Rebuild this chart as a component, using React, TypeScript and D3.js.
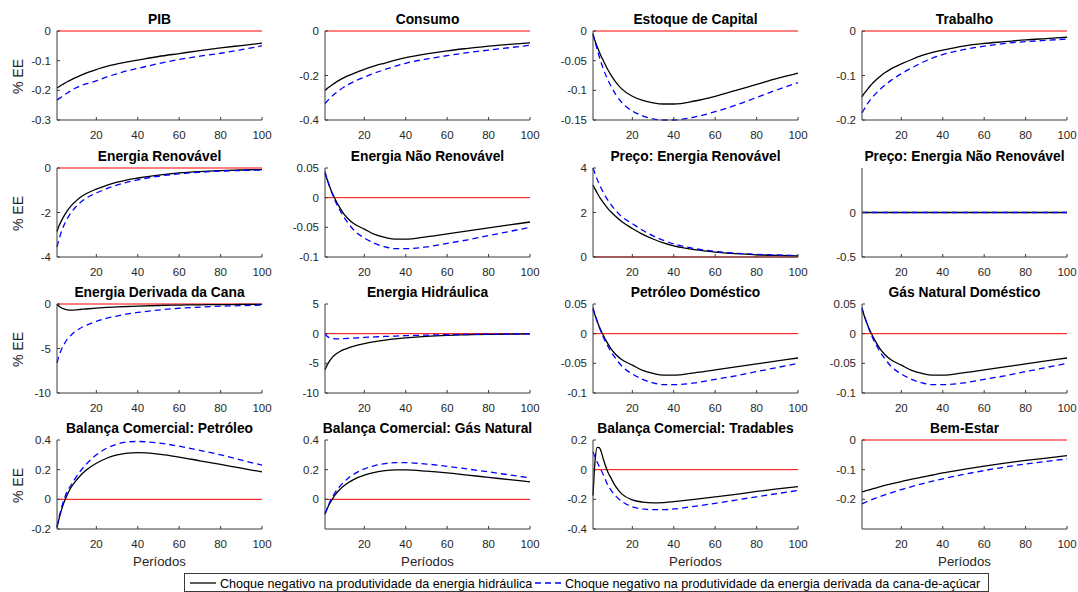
import React from "react";
import * as d3 from "d3";

const periods = [1, 2, 3, 4, 5, 6, 8, 10, 12, 15, 20, 25, 30, 35, 40, 50, 60, 70, 80, 90, 100];
const xTicks = [20, 40, 60, 80, 100];

const titles = [
  "PIB", "Consumo", "Estoque de Capital", "Trabalho",
  "Energia Renovável", "Energia Não Renovável", "Preço: Energia Renovável", "Preço: Energia Não Renovável",
  "Energia Derivada da Cana", "Energia Hidráulica", "Petróleo Doméstico", "Gás Natural Doméstico",
  "Balança Comercial: Petróleo", "Balança Comercial: Gás Natural", "Balança Comercial: Tradables", "Bem-Estar",
];

const yDomains: [number, number][] = [
  [-0.3, 0], [-0.4, 0], [-0.15, 0], [-0.2, 0],
  [-4, 0], [-0.1, 0.05], [0, 4], [-0.5, 0.5],
  [-10, 0], [-10, 5], [-0.1, 0.05], [-0.1, 0.05],
  [-0.2, 0.4], [-0.2, 0.4], [-0.4, 0.2], [-0.3, 0],
];

const yTicks: number[][] = [
  [-0.3, -0.2, -0.1, 0], [-0.4, -0.2, 0], [-0.15, -0.1, -0.05, 0], [-0.2, -0.1, 0],
  [-4, -2, 0], [-0.1, -0.05, 0, 0.05], [0, 2, 4], [-0.5, 0],
  [-10, -5, 0], [-10, -5, 0, 5], [-0.1, -0.05, 0, 0.05], [-0.1, -0.05, 0, 0.05],
  [-0.2, 0, 0.2, 0.4], [0, 0.2, 0.4], [-0.4, -0.2, 0, 0.2], [-0.2, -0.1, 0],
];

// Series: choque hidráulica (preta) e choque cana (azul)
const pibHid = [-0.192, -0.188, -0.183, -0.179, -0.175, -0.171, -0.164, -0.157, -0.151, -0.142, -0.130, -0.119, -0.111, -0.104, -0.098, -0.086, -0.076, -0.066, -0.057, -0.049, -0.041];
const pibCana = [-0.233, -0.228, -0.223, -0.218, -0.213, -0.209, -0.200, -0.192, -0.186, -0.178, -0.168, -0.155, -0.144, -0.134, -0.126, -0.110, -0.096, -0.085, -0.075, -0.063, -0.050];
const consHid = [-0.267, -0.259, -0.252, -0.245, -0.238, -0.232, -0.221, -0.211, -0.202, -0.190, -0.172, -0.157, -0.144, -0.131, -0.120, -0.103, -0.089, -0.078, -0.068, -0.060, -0.053];
const consCana = [-0.326, -0.316, -0.306, -0.297, -0.288, -0.280, -0.266, -0.253, -0.242, -0.227, -0.207, -0.189, -0.173, -0.158, -0.145, -0.126, -0.111, -0.097, -0.086, -0.075, -0.064];
const capHid = [-0.007, -0.017, -0.026, -0.035, -0.043, -0.050, -0.064, -0.076, -0.086, -0.098, -0.110, -0.117, -0.121, -0.123, -0.123, -0.118, -0.110, -0.100, -0.090, -0.080, -0.071];
const capCana = [-0.004, -0.018, -0.031, -0.043, -0.054, -0.064, -0.081, -0.095, -0.107, -0.121, -0.135, -0.143, -0.148, -0.150, -0.150, -0.145, -0.136, -0.125, -0.112, -0.099, -0.087];
const trabHid = [-0.148, -0.141, -0.135, -0.129, -0.123, -0.118, -0.109, -0.101, -0.094, -0.085, -0.074, -0.064, -0.055, -0.048, -0.043, -0.034, -0.028, -0.024, -0.020, -0.017, -0.014];
const trabCana = [-0.184, -0.176, -0.168, -0.161, -0.155, -0.149, -0.139, -0.130, -0.122, -0.111, -0.096, -0.083, -0.071, -0.061, -0.053, -0.042, -0.034, -0.028, -0.024, -0.021, -0.018];
const renHid = [-2.85, -2.6, -2.4, -2.22, -2.06, -1.92, -1.68, -1.5, -1.34, -1.16, -0.95, -0.78, -0.64, -0.53, -0.45, -0.32, -0.22, -0.16, -0.12, -0.09, -0.07];
const renCana = [-3.55, -3.2, -2.9, -2.65, -2.45, -2.27, -1.98, -1.76, -1.57, -1.36, -1.12, -0.93, -0.77, -0.64, -0.53, -0.37, -0.26, -0.19, -0.14, -0.11, -0.09];
const naoRenHid = [0.041, 0.031, 0.021, 0.012, 0.004, -0.003, -0.016, -0.027, -0.035, -0.044, -0.053, -0.062, -0.067, -0.070, -0.070, -0.066, -0.061, -0.056, -0.051, -0.046, -0.041];
const naoRenCana = [0.044, 0.032, 0.021, 0.011, 0.002, -0.006, -0.020, -0.032, -0.042, -0.055, -0.068, -0.077, -0.083, -0.086, -0.086, -0.083, -0.077, -0.071, -0.064, -0.057, -0.050];
const precoRenHid = [3.24, 3.05, 2.88, 2.72, 2.58, 2.44, 2.2, 2.0, 1.82, 1.58, 1.28, 1.02, 0.81, 0.63, 0.5, 0.33, 0.22, 0.15, 0.1, 0.07, 0.05];
const precoRenCana = [4.0, 3.74, 3.5, 3.28, 3.08, 2.9, 2.58, 2.32, 2.09, 1.8, 1.5, 1.2, 0.95, 0.75, 0.59, 0.38, 0.25, 0.17, 0.12, 0.09, 0.07];
const precoNaoRenHid = [0, 0, 0, 0, 0, 0, 0, 0, 0, 0, 0, 0, 0, 0, 0, 0, 0, 0, 0, 0, 0];
const precoNaoRenCana = [0, 0, 0, 0, 0, 0, 0, 0, 0, 0, 0, 0, 0, 0, 0, 0, 0, 0, 0, 0, 0];
const canaHid = [0, -0.25, -0.42, -0.53, -0.6, -0.65, -0.68, -0.66, -0.62, -0.56, -0.47, -0.39, -0.33, -0.28, -0.24, -0.17, -0.12, -0.09, -0.07, -0.05, -0.04];
const canaCana = [-6.6, -5.8, -5.2, -4.7, -4.3, -3.95, -3.45, -3.05, -2.75, -2.4, -1.95, -1.6, -1.35, -1.12, -0.95, -0.68, -0.48, -0.35, -0.25, -0.18, -0.13];
const hidHid = [-6.1, -5.3, -4.7, -4.2, -3.8, -3.5, -3.05, -2.7, -2.42, -2.08, -1.66, -1.34, -1.08, -0.87, -0.7, -0.45, -0.29, -0.19, -0.12, -0.08, -0.05];
const hidCana = [0, -0.45, -0.68, -0.8, -0.85, -0.87, -0.87, -0.84, -0.8, -0.74, -0.64, -0.55, -0.47, -0.4, -0.34, -0.24, -0.17, -0.12, -0.08, -0.06, -0.04];
const petDomHid = [0.041, 0.031, 0.021, 0.012, 0.004, -0.003, -0.016, -0.027, -0.035, -0.044, -0.053, -0.062, -0.067, -0.070, -0.070, -0.066, -0.061, -0.056, -0.051, -0.046, -0.041];
const petDomCana = [0.044, 0.032, 0.021, 0.011, 0.002, -0.006, -0.020, -0.032, -0.042, -0.055, -0.068, -0.077, -0.083, -0.086, -0.086, -0.083, -0.077, -0.071, -0.064, -0.057, -0.050];
const gasDomHid = [0.041, 0.031, 0.021, 0.012, 0.004, -0.003, -0.016, -0.027, -0.035, -0.044, -0.053, -0.062, -0.067, -0.070, -0.070, -0.066, -0.061, -0.056, -0.051, -0.046, -0.041];
const gasDomCana = [0.044, 0.032, 0.021, 0.011, 0.002, -0.006, -0.020, -0.032, -0.042, -0.055, -0.068, -0.077, -0.083, -0.086, -0.086, -0.083, -0.077, -0.071, -0.064, -0.057, -0.050];
const bcPetHid = [-0.19, -0.13, -0.08, -0.035, 0.0, 0.033, 0.085, 0.123, 0.156, 0.196, 0.243, 0.277, 0.299, 0.312, 0.315, 0.305, 0.285, 0.26, 0.235, 0.21, 0.185];
const bcPetCana = [-0.185, -0.12, -0.065, -0.018, 0.022, 0.056, 0.1, 0.145, 0.185, 0.235, 0.3, 0.345, 0.372, 0.387, 0.39, 0.38, 0.358, 0.33, 0.3, 0.265, 0.23];
const bcGasHid = [-0.1, -0.065, -0.035, -0.01, 0.012, 0.032, 0.065, 0.09, 0.11, 0.135, 0.163, 0.182, 0.193, 0.198, 0.198, 0.19, 0.178, 0.163, 0.148, 0.133, 0.118];
const bcGasCana = [-0.1, -0.06, -0.028, 0.0, 0.025, 0.048, 0.085, 0.115, 0.14, 0.17, 0.205, 0.228, 0.241, 0.247, 0.247, 0.238, 0.222, 0.204, 0.185, 0.165, 0.145];
const bcTradHid = [-0.175, 0.06, 0.15, 0.148, 0.12, 0.07, -0.01, -0.065, -0.115, -0.165, -0.204, -0.219, -0.224, -0.222, -0.215, -0.2, -0.184, -0.166, -0.147, -0.13, -0.114];
const bcTradCana = [0.12, 0.085, 0.052, 0.022, -0.006, -0.034, -0.1, -0.145, -0.178, -0.215, -0.25, -0.265, -0.27, -0.27, -0.265, -0.247, -0.227, -0.205, -0.183, -0.161, -0.14];
const bemHid = [-0.175, -0.173, -0.171, -0.169, -0.167, -0.165, -0.161, -0.157, -0.153, -0.148, -0.14, -0.132, -0.125, -0.118, -0.111, -0.099, -0.088, -0.078, -0.069, -0.061, -0.053];
const bemCana = [-0.215, -0.212, -0.209, -0.206, -0.203, -0.2, -0.195, -0.19, -0.185, -0.178, -0.167, -0.157, -0.148, -0.139, -0.131, -0.116, -0.103, -0.091, -0.081, -0.072, -0.064];

const hidSeries = [pibHid, consHid, capHid, trabHid, renHid, naoRenHid, precoRenHid, precoNaoRenHid, canaHid, hidHid, petDomHid, gasDomHid, bcPetHid, bcGasHid, bcTradHid, bemHid];
const canaSeries = [pibCana, consCana, capCana, trabCana, renCana, naoRenCana, precoRenCana, precoNaoRenCana, canaCana, hidCana, petDomCana, gasDomCana, bcPetCana, bcGasCana, bcTradCana, bemCana];

const legendLabels = [
  "Choque negativo na produtividade da energia hidráulica",
  "Choque negativo na produtividade da energia derivada da cana-de-açúcar",
];
const xLabel = "Períodos";
const yLabel = "% EE";

const W = 1078;
const H = 592;
const colLeft = [57, 325, 593, 862];
const rowTop = [31, 168, 304, 440];
const pw = 205;
const ph = 89;
const font = "'Liberation Sans', Arial, Helvetica, sans-serif";
const textColor = "#262626";
const axisColor = "#3a3a3a";

function Panel({ i }: { i: number }) {
  const r = Math.floor(i / 4);
  const c = i % 4;
  const left = colLeft[c];
  const top = rowTop[r];
  const x = d3.scaleLinear().domain([1, 100]).range([left, left + pw]);
  const y = d3.scaleLinear().domain(yDomains[i]).range([top + ph, top]);
  const line = d3
    .line<number>()
    .x((_, k) => x(periods[k]))
    .y((v) => y(v))
    .curve(d3.curveMonotoneX);
  const clipId = `clip${i}`;
  return (
    <g>
      <defs>
        <clipPath id={clipId}>
          <rect x={left - 1} y={top - 1.5} width={pw + 2} height={ph + 3} />
        </clipPath>
      </defs>
      <text x={left + pw / 2} y={top - 7} textAnchor="middle" fontSize={13.8} fontWeight="bold" fill="#000" fontFamily={font}>
        {titles[i]}
      </text>
      <g clipPath={`url(#${clipId})`}>
        <line x1={x(1)} x2={x(100)} y1={y(0)} y2={y(0)} stroke="#ff0000" strokeWidth={1} />
        <path d={line(hidSeries[i]) || ""} fill="none" stroke="#000" strokeWidth={1.3} />
        <path d={line(canaSeries[i]) || ""} fill="none" stroke="#0000ff" strokeWidth={1.3} strokeDasharray="6,4" />
      </g>
      <line x1={left} x2={left + pw} y1={top + ph} y2={top + ph} stroke={axisColor} strokeWidth={1} />
      <line x1={left} x2={left} y1={top} y2={top + ph} stroke={axisColor} strokeWidth={1} />
      {xTicks.map((t) => (
        <g key={"x" + t}>
          <line x1={x(t)} x2={x(t)} y1={top + ph} y2={top + ph - 3} stroke={axisColor} strokeWidth={1} />
          <text x={x(t)} y={top + ph + 19} textAnchor="middle" fontSize={11.5} fill={textColor} fontFamily={font}>
            {t}
          </text>
        </g>
      ))}
      {yTicks[i].map((t) => (
        <g key={"y" + t}>
          <line x1={left} x2={left + 3} y1={y(t)} y2={y(t)} stroke={axisColor} strokeWidth={1} />
          <text x={left - 6} y={y(t) + 4} textAnchor="end" fontSize={11.5} fill={textColor} fontFamily={font}>
            {String(t)}
          </text>
        </g>
      ))}
      {c === 0 && (
        <text
          transform={`translate(${22.5},${top + ph / 2 + 1}) rotate(-90)`}
          textAnchor="middle"
          fontSize={14}
          fill={textColor}
          fontFamily={font}
        >
          {yLabel}
        </text>
      )}
      {r === 3 && (
        <text x={left + pw / 2} y={top + ph + 37} textAnchor="middle" fontSize={13.2} fill={textColor} fontFamily={font}>
          {xLabel}
        </text>
      )}
    </g>
  );
}

export default function App() {
  return (
    <svg width={W} height={H} style={{ position: "absolute", left: 0, top: 0, background: "#fff" }}>
      <rect x={0} y={0} width={W} height={H} fill="#fff" />
      {titles.map((_, i) => (
        <Panel key={i} i={i} />
      ))}
      <g>
        <rect x={184.5} y={573.5} width={804} height={18} fill="#fff" stroke="#3a3a3a" strokeWidth={1} />
        <line x1={190} x2={216} y1={583} y2={583} stroke="#000" strokeWidth={1.3} />
        <text x={220} y={587.5} fontSize={12.6} fill="#000" fontFamily={font}>
          {legendLabels[0]}
        </text>
        <line x1={535} x2={561} y1={583} y2={583} stroke="#0000ff" strokeWidth={1.3} strokeDasharray="6,4" />
        <text x={565} y={587.5} fontSize={12.6} fill="#000" fontFamily={font}>
          {legendLabels[1]}
        </text>
      </g>
    </svg>
  );
}
